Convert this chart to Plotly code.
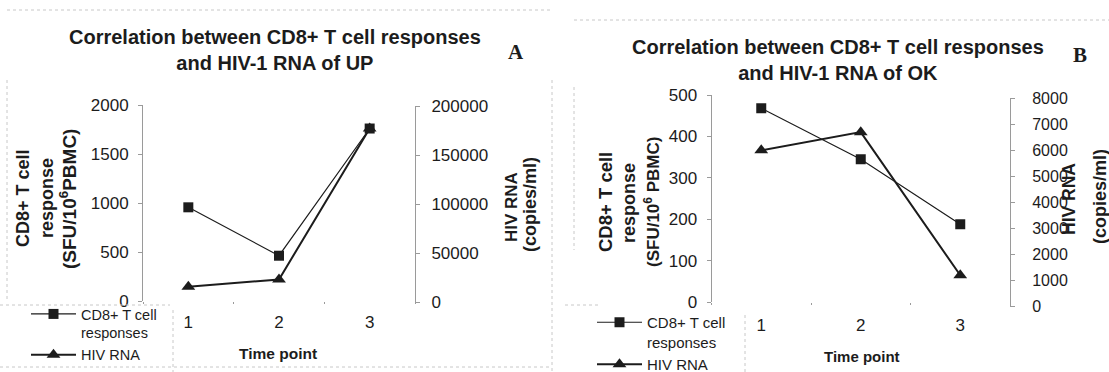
import plotly.graph_objects as go

W, H = 1109, 372

# ---- data ----
time_points = ["1", "2", "3"]
cd8_up = [956, 462, 1760]          # SFU/10^6 PBMC
hiv_up = [15500, 23000, 177000]    # copies/ml
cd8_ok = [468, 345, 188]
hiv_ok = [6000, 6700, 1200]

left_ticks_a = [0, 500, 1000, 1500, 2000]
right_ticks_a = [0, 50000, 100000, 150000, 200000]
left_ticks_b = [0, 100, 200, 300, 400, 500]
right_ticks_b = [0, 1000, 2000, 3000, 4000, 5000, 6000, 7000, 8000]

FONT = "Arial, Liberation Sans, sans-serif"
SERIF = "Liberation Serif, Times New Roman, serif"
INK = "#1c1c1c"
AX = "#9a9a9a"


def px(x):
    return x / W


def py(y):
    return 1 - y / H


fig = go.Figure()

# Chart A
fig.add_trace(go.Scatter(x=time_points, y=cd8_up, name="CD8+ T cell<br>responses",
                         mode="lines+markers", xaxis="x", yaxis="y",
                         line=dict(color=INK, width=1.2),
                         marker=dict(symbol="square", size=10, color=INK),
                         legend="legend"))
fig.add_trace(go.Scatter(x=time_points, y=hiv_up, name="HIV RNA",
                         mode="lines+markers", xaxis="x", yaxis="y2",
                         line=dict(color=INK, width=2),
                         marker=dict(symbol="triangle-up", size=12, color=INK),
                         legend="legend"))
# Chart B
fig.add_trace(go.Scatter(x=time_points, y=cd8_ok, name="CD8+ T cell<br>responses",
                         mode="lines+markers", xaxis="x2", yaxis="y3",
                         line=dict(color=INK, width=1.2),
                         marker=dict(symbol="square", size=10, color=INK),
                         legend="legend2"))
fig.add_trace(go.Scatter(x=time_points, y=hiv_ok, name="HIV RNA",
                         mode="lines+markers", xaxis="x2", yaxis="y4",
                         line=dict(color=INK, width=2),
                         marker=dict(symbol="triangle-up", size=12, color=INK),
                         legend="legend2"))

tickfont = dict(family=FONT, size=17, color=INK)

xcommon = dict(type="category", tickson="boundaries", ticks="outside", ticklen=2,
               tickcolor=AX, showline=False, showgrid=False, zeroline=False,
               tickfont=tickfont, range=[-0.5, 2.5])
ycommon = dict(showgrid=False, zeroline=False, showline=True, linecolor=AX,
               linewidth=1, ticks="outside", ticklen=4, tickcolor=AX,
               tickformat="d")

fig.update_layout(
    width=W, height=H, margin=dict(l=0, r=0, t=0, b=0, autoexpand=False),
    paper_bgcolor="white", plot_bgcolor="rgba(0,0,0,0)",
    font=dict(family=FONT, color=INK),
    xaxis=dict(domain=[px(143), px(415)], anchor="y", ticklabelstandoff=9, **xcommon),
    yaxis=dict(domain=[py(301), py(105)], anchor="x", range=[0, 2000],
               tickvals=left_ticks_a, ticklabelstandoff=6, tickfont=tickfont, **ycommon),
    yaxis2=dict(domain=[py(302), py(106)], anchor="x", side="right",
                range=[0, 200000], tickvals=right_ticks_a, ticklabelstandoff=8,
                tickfont=tickfont, **ycommon),
    xaxis2=dict(domain=[px(711.5), px(1010)], anchor="y3", ticklabelstandoff=11, **xcommon),
    yaxis3=dict(domain=[py(302), py(95)], anchor="x2", range=[0, 500],
                tickvals=left_ticks_b, ticklabelstandoff=6, tickfont=tickfont, **ycommon),
    yaxis4=dict(domain=[py(306.5), py(98.3)], anchor="x2", side="right",
                range=[0, 8000], tickvals=right_ticks_b, ticklabelstandoff=14,
                tickfont=dict(family=FONT, size=16, color=INK), **ycommon),
    legend=dict(x=px(26), y=py(298), xanchor="left", yanchor="top",
                bgcolor="rgba(0,0,0,0)", font=dict(family=FONT, size=14.5, color=INK),
                valign="top", tracegroupgap=0, itemwidth=45),
    legend2=dict(x=px(592), y=py(306), xanchor="left", yanchor="top",
                 bgcolor="rgba(0,0,0,0)", font=dict(family=FONT, size=15, color=INK),
                 valign="top", tracegroupgap=0, itemwidth=45),
)

ann = []


def text(x, y, t, size=15, bold=True, angle=0, family=FONT, xanchor="center"):
    ann.append(dict(x=px(x), y=py(y), xref="paper", yref="paper", showarrow=False,
                    text=("<b>%s</b>" % t) if bold else t, textangle=angle,
                    xanchor=xanchor, yanchor="middle",
                    font=dict(family=family, size=size, color=INK)))


# titles
text(275, 50, "Correlation between CD8+ T cell responses<br>and HIV-1 RNA of UP", size=20)
text(838, 60, "Correlation between CD8+ T cell responses<br>and HIV-1 RNA of OK", size=20)
text(516, 52, "A", size=21, family=SERIF)
text(1080, 55, "B", size=21, family=SERIF)

# axis titles chart A
text(23, 198, "CD8+ T cell", size=18, angle=-90)
text(47, 198, "response", size=18, angle=-90)
text(68, 199, "(SFU/10<sup>6</sup>PBMC)", size=19, angle=-90)
text(512, 207, "HIV RNA", size=17, angle=-90)
text(530, 205, "(copies/ml)", size=18, angle=-90)
text(278, 353, "Time point", size=15.5)

# axis titles chart B
text(605, 202, "CD8+ T cell", size=18.5, angle=-90)
text(629, 203, "response", size=18, angle=-90)
text(652, 202, "(SFU/10<sup>6</sup> PBMC)", size=17, angle=-90)
text(1069, 199, "HIV RNA", size=17.5, angle=-90)
text(1100, 197, "(copies/ml)", size=18, angle=-90)
text(862, 356, "Time point", size=15)

fig.update_layout(annotations=ann)

# faint scan borders
shapes = []


def dotted(x0, y0, x1, y1, c="#c8c8c8"):
    shapes.append(dict(type="line", xref="paper", yref="paper",
                       x0=px(x0), y0=py(y0), x1=px(x1), y1=py(y1),
                       line=dict(color=c, width=1, dash="dot")))


dotted(7, 10, 550, 10)
dotted(574, 20, 1109, 20)
dotted(7, 80, 7, 300)
dotted(0, 305, 170, 305)
dotted(173, 310, 173, 372)
dotted(552, 80, 552, 372)
dotted(574, 87, 574, 250)
dotted(565, 305, 600, 305)
dotted(745, 315, 745, 372)
dotted(0, 367, 550, 367)
fig.update_layout(shapes=shapes)

fig.write_html("out.html")
